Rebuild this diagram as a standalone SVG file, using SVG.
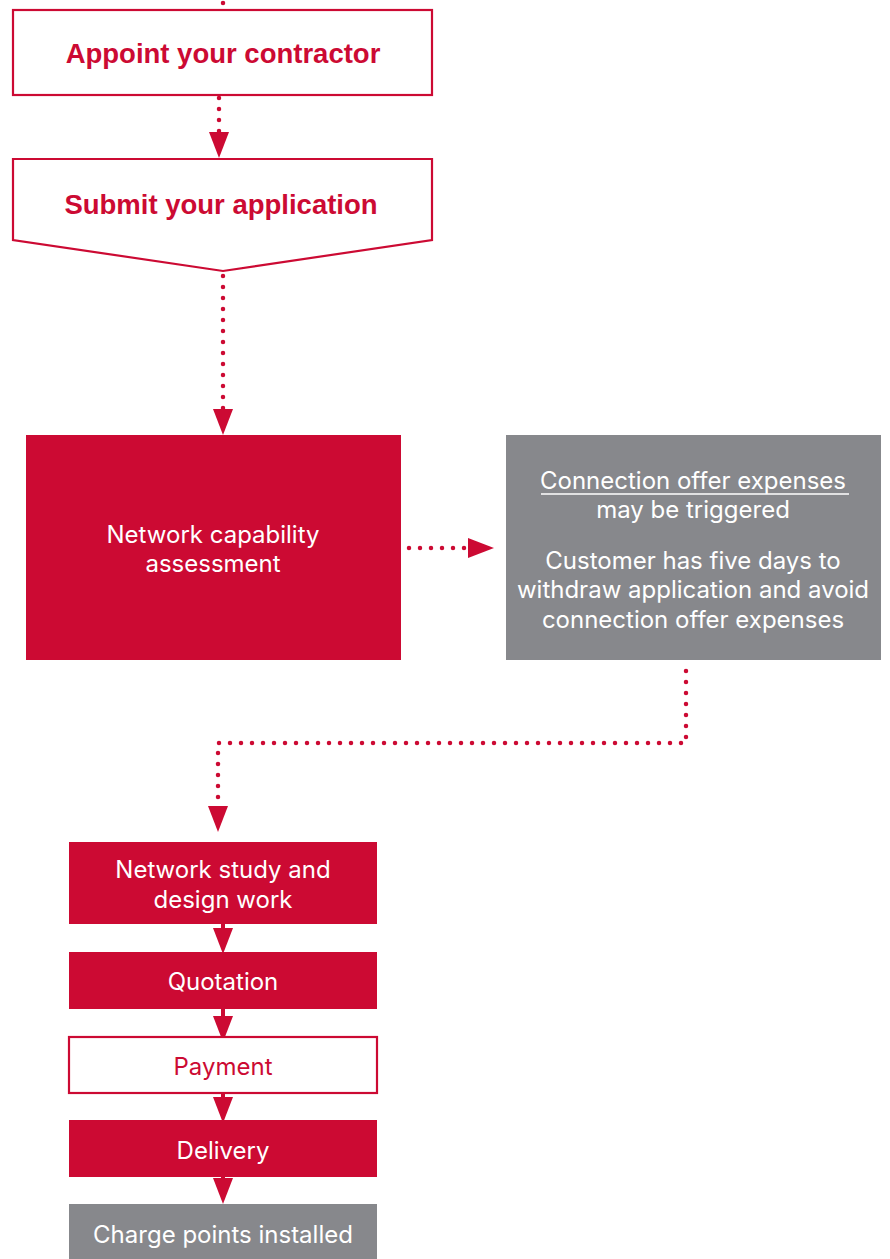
<svg xmlns="http://www.w3.org/2000/svg" width="890" height="1259" viewBox="0 0 890 1259">
<style>
.outline{fill:#ffffff;stroke:#cc0a33;stroke-width:2.2}
.red{fill:#cc0a33}
.grey{fill:#87888c}
.t{font-family:Inter,"Liberation Sans",Arial,sans-serif;text-anchor:middle}
.bold{font-family:"Liberation Sans",Arial,sans-serif;font-weight:bold;font-size:27.5px;fill:#cc0a33}
.w{font-size:24px;fill:#ffffff}
.r{font-size:24px;fill:#cc0a33}
.dot{fill:none;stroke:#cc0a33;stroke-width:4.5;stroke-linecap:round;stroke-dasharray:0 11}
.solid{fill:none;stroke:#cc0a33;stroke-width:4}
</style>
<defs>
<marker id="ah" markerUnits="userSpaceOnUse" markerWidth="26" markerHeight="20" refX="0" refY="10" orient="auto">
<path d="M0,0 L26,10 L0,20 z" fill="#cc0a33"/>
</marker>
</defs>
<rect width="890" height="1259" fill="#ffffff"/>
<g id="connectors">
<path class="dot" d="M223,3 L223,4"/>
<path class="dot" d="M219,98 L219,132" marker-end="url(#ah)"/>
<path class="dot" d="M223,276 L223,409" marker-end="url(#ah)"/>
<path class="dot" d="M409,548 L468,548" marker-end="url(#ah)"/>
<path class="dot" d="M686,671 L686,743 L218,743 L218,806" marker-end="url(#ah)"/>
<path class="solid" d="M223,924 L223,928" marker-end="url(#ah)"/>
<path class="solid" d="M223,1009 L223,1016" marker-end="url(#ah)"/>
<path class="solid" d="M223,1093 L223,1097" marker-end="url(#ah)"/>
<path class="solid" d="M223,1177 L223,1178" marker-end="url(#ah)"/>
</g>
<g id="appoint">
<rect class="outline" x="13" y="10" width="419" height="85"/>
<text class="t bold" x="223" y="63">Appoint your contractor</text>
</g>
<g id="submit">
<path class="outline" d="M13,159 L432,159 L432,240 L223,271 L13,240 Z"/>
<text class="t bold" x="221" y="214">Submit your application</text>
</g>
<g id="assessment">
<rect class="red" x="26" y="435" width="375" height="225"/>
<text class="t w" x="213" y="543">Network capability</text>
<text class="t w" x="213" y="572">assessment</text>
</g>
<g id="expenses">
<rect class="grey" x="506" y="435" width="375" height="225"/>
<text class="t w" x="693" y="489">Connection offer expenses</text>
<line x1="541" y1="494" x2="849" y2="494" stroke="#ffffff" stroke-width="1.5"/>
<text class="t w" x="693" y="518">may be triggered</text>
<text class="t w" x="693" y="569">Customer has five days to</text>
<text class="t w" x="693" y="598">withdraw application and avoid</text>
<text class="t w" x="693" y="628">connection offer expenses</text>
</g>
<g id="study">
<rect class="red" x="69" y="842" width="308" height="82"/>
<text class="t w" x="223" y="878">Network study and</text>
<text class="t w" x="223" y="908">design work</text>
</g>
<g id="quotation">
<rect class="red" x="69" y="952" width="308" height="57"/>
<text class="t w" x="223" y="990">Quotation</text>
</g>
<g id="payment">
<rect class="outline" x="69" y="1037" width="308" height="56"/>
<text class="t r" x="223" y="1075">Payment</text>
</g>
<g id="delivery">
<rect class="red" x="69" y="1120" width="308" height="57"/>
<text class="t w" x="223" y="1159">Delivery</text>
</g>
<g id="installed">
<rect class="grey" x="69" y="1204" width="308" height="55"/>
<text class="t w" x="223" y="1243">Charge points installed</text>
</g>
</svg>
